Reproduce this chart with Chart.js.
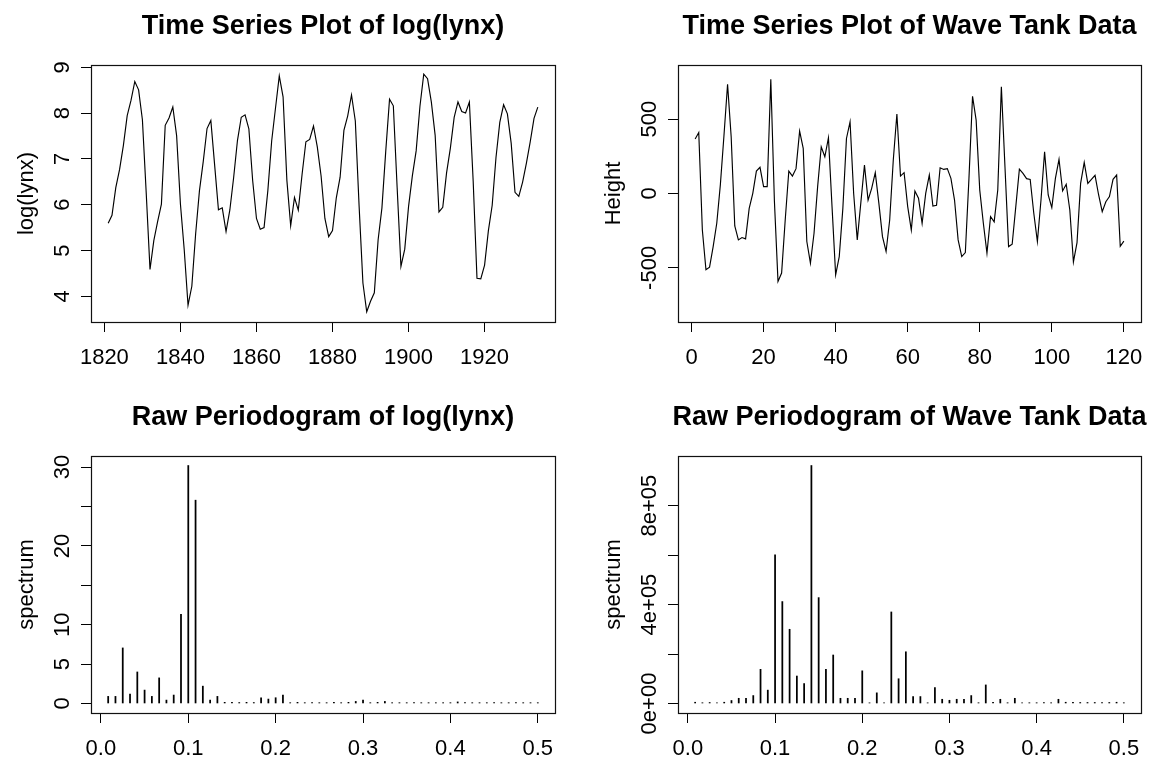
<!DOCTYPE html>
<html>
<head>
<meta charset="utf-8">
<script src="https://cdn.jsdelivr.net/npm/chart.js@4.4.1/dist/chart.umd.min.js"></script>
<style>
html,body{margin:0;padding:0;background:#fff;width:1161px;height:758px;overflow:hidden}
canvas{position:absolute;left:0;top:0}
</style>
</head>
<body>
<canvas id="c1" width="1161" height="758"></canvas>
<canvas id="c2" width="1161" height="758"></canvas>
<canvas id="c3" width="1161" height="758"></canvas>
<canvas id="c4" width="1161" height="758"></canvas>
<script>
// ---------------- DATA ----------------
const years = [1821,1822,1823,1824,1825,1826,1827,1828,1829,1830,
1831,1832,1833,1834,1835,1836,1837,1838,1839,1840,
1841,1842,1843,1844,1845,1846,1847,1848,1849,1850,
1851,1852,1853,1854,1855,1856,1857,1858,1859,1860,
1861,1862,1863,1864,1865,1866,1867,1868,1869,1870,
1871,1872,1873,1874,1875,1876,1877,1878,1879,1880,
1881,1882,1883,1884,1885,1886,1887,1888,1889,1890,
1891,1892,1893,1894,1895,1896,1897,1898,1899,1900,
1901,1902,1903,1904,1905,1906,1907,1908,1909,1910,
1911,1912,1913,1914,1915,1916,1917,1918,1919,1920,
1921,1922,1923,1924,1925,1926,1927,1928,1929,1930,
1931,1932,1933,1934];
const logLynx = [5.595,5.771,6.372,6.770,7.296,7.945,8.276,8.690,8.507,7.854,
6.260,4.585,5.215,5.631,6.014,7.734,7.895,8.134,7.509,6.014,
5.017,3.807,4.220,5.361,6.303,6.940,7.663,7.838,6.864,5.889,
5.932,5.416,5.886,6.594,7.401,7.910,7.962,7.659,6.528,5.700,
5.464,5.501,6.314,7.392,8.105,8.813,8.356,6.532,5.541,6.159,
5.881,6.664,7.374,7.424,7.719,7.263,6.628,5.700,5.303,5.434,
6.151,6.601,7.622,7.941,8.396,7.828,5.964,4.290,3.664,3.892,
4.078,5.236,5.932,7.164,8.302,8.159,6.375,4.654,5.030,5.958,
6.631,7.175,8.150,8.852,8.750,8.241,7.515,5.844,5.945,6.695,
7.236,7.906,8.243,8.036,8.001,8.240,6.513,4.394,4.382,4.682,
5.434,5.989,7.032,7.796,8.182,7.984,7.338,6.271,6.184,6.495,
6.908,7.371,7.885,8.130];
const waveTime = [1,2,3,4,5,6,7,8,9,10,11,12,13,14,15,16,17,18,19,20,
21,22,23,24,25,26,27,28,29,30,31,32,33,34,35,36,37,38,39,40,
41,42,43,44,45,46,47,48,49,50,51,52,53,54,55,56,57,58,59,60,
61,62,63,64,65,66,67,68,69,70,71,72,73,74,75,76,77,78,79,80,
81,82,83,84,85,86,87,88,89,90,91,92,93,94,95,96,97,98,99,100,
101,102,103,104,105,106,107,108,109,110,111,112,113,114,115,116,117,118,119,120];
const waveHeight = [366,410,-245,-513,-495,-357,-200,60,390,734,
381,-218,-312,-296,-305,-100,1,151,176,46,
46,768,-50,-591,-535,-178,151,117,167,419,
303,-323,-468,-267,46,314,247,375,-90,-547,
-424,-100,370,482,0,-312,-60,191,-44,35,
140,-66,-290,-390,-178,225,534,117,140,-88,
-245,17,-32,-200,1,124,-84,-79,173,162,
167,102,-44,-312,-424,-397,100,654,493,23,
-200,-401,-155,-191,23,717,180,-357,-341,-90,
164,135,100,95,-133,-323,-44,281,-10,-95,
102,229,17,62,-111,-460,-330,68,209,68,
95,122,-10,-122,-55,-21,95,124,-355,-320];
const frequencies = [0.00833,0.01667,0.025,0.03333,0.04167,0.05,0.05833,0.06667,0.075,0.08333,
0.09167,0.1,0.10833,0.11667,0.125,0.13333,0.14167,0.15,0.15833,0.16667,
0.175,0.18333,0.19167,0.2,0.20833,0.21667,0.225,0.23333,0.24167,0.25,
0.25833,0.26667,0.275,0.28333,0.29167,0.3,0.30833,0.31667,0.325,0.33333,
0.34167,0.35,0.35833,0.36667,0.375,0.38333,0.39167,0.4,0.40833,0.41667,
0.425,0.43333,0.44167,0.45,0.45833,0.46667,0.475,0.48333,0.49167,0.5];
const lynxSpectrum = [0.9,0.9,7.05,1.2,4.0,1.7,0.9,3.25,0.43,1.07,
11.3,30.2,25.8,2.2,0.43,0.9,0.15,0.15,0.12,0.15,
0.12,0.73,0.56,0.73,1.07,0.1,0.15,0.1,0.1,0.1,
0.1,0.15,0.1,0.15,0.26,0.43,0.1,0.15,0.26,0.1,
0.1,0.1,0.1,0.1,0.1,0.1,0.1,0.1,0.2,0.1,
0.1,0.1,0.1,0.1,0.1,0.1,0.1,0.1,0.1,0.1];
const waveSpectrum = [5000,3000,4000,3000,5000,12000,21000,21000,32000,138000,
54000,601000,412000,300000,111000,80500,962000,428000,138000,196000,
21000,21000,21000,132000,2700,43000,3000,370000,100000,209000,
28000,28000,2700,64000,17000,13000,17000,17000,32000,3000,
75000,5000,17000,3000,21000,3000,3000,3000,4000,3000,
17000,5000,5000,4000,4000,4000,4000,4000,5000,3000];

// tick values and labels
const yearTicks = [1820,1840,1860,1880,1900,1920];
const yearTickLabels = ["1820","1840","1860","1880","1900","1920"];
const timeTicks = [0,20,40,60,80,100,120];
const timeTickLabels = ["0","20","40","60","80","100","120"];
const freqTicks = [0,0.1,0.2,0.3,0.4,0.5];
const freqTickLabels = ["0.0","0.1","0.2","0.3","0.4","0.5"];
const lynxTicks = [4,5,6,7,8,9];
const lynxTickLabels = ["4","5","6","7","8","9"];
const heightTicks = [-500,0,500];
const heightTickLabels = ["-500","0","500"];
const lynxSpecTicks = [0,5,10,15,20,25,30];
const lynxSpecTickLabels = ["0","5","10","","20","","30"];
const waveSpecTicks = [0,200000,400000,600000,800000];
const waveSpecTickLabels = ["0e+00","","4e+05","","8e+05"];

// ---------------- STYLE / LAYOUT ----------------
const W = 1161, H = 758;
const FONT = '"Liberation Sans", Arial, Helvetica, sans-serif';
const COLS = [{left:91, right:555}, {left:678, right:1141}];
const ROWS = [{top:65, bottom:322}, {top:456, bottom:713}];

function rPlugin(cfg){
  return {
    id: 'rStyle',
    afterDraw(chart){
      const ctx = chart.ctx, a = chart.chartArea;
      const xs = chart.scales.x, ys = chart.scales.y;
      ctx.save();
      ctx.strokeStyle = '#111';
      ctx.lineWidth = 1.2;
      ctx.strokeRect(Math.round(a.left)+0.5, Math.round(a.top)+0.5,
                     Math.round(a.right-a.left), Math.round(a.bottom-a.top));
      ctx.fillStyle = '#000';
      ctx.textAlign = 'center';
      ctx.textBaseline = 'alphabetic';
      ctx.font = 'bold 27px ' + FONT;
      ctx.fillText(cfg.title, (a.left+a.right)/2, a.top-31);
      ctx.font = '22px ' + FONT;
      cfg.xTicks.forEach((v,i)=>{
        const t = cfg.xLabels[i];
        if (t) ctx.fillText(t, xs.getPixelForValue(v), a.bottom+42);
      });
      cfg.yTicks.forEach((v,i)=>{
        const t = cfg.yLabels[i];
        if (!t) return;
        ctx.save();
        ctx.translate(a.left-22, ys.getPixelForValue(v));
        ctx.rotate(-Math.PI/2);
        ctx.fillText(t, 0, 0);
        ctx.restore();
      });
      ctx.save();
      ctx.translate(a.left-58, (a.top+a.bottom)/2);
      ctx.rotate(-Math.PI/2);
      ctx.fillText(cfg.yTitle, 0, 0);
      ctx.restore();
      ctx.restore();
    }
  };
}

function axis(min, max, tickVals, horizontal){
  return {
    type: 'linear',
    position: horizontal ? 'bottom' : 'left',
    min: min, max: max,
    offset: false,
    afterBuildTicks(s){ s.ticks = tickVals.map(v=>({value:v})); },
    afterFit(s){ if (horizontal) s.height = 0; else s.width = 0; },
    grid: {display:true, drawOnChartArea:false, drawTicks:true, tickLength:10,
           color:'#000', lineWidth:1, offset:false},
    border: {display:false},
    ticks: {display:false}
  };
}

function makeChart(id, type, points, col, row, xr, yr, cfg){
  const c = COLS[col], r = ROWS[row];
  const ds = type === 'line'
    ? {data: points, borderColor:'#000', borderWidth:1.15, pointRadius:0, tension:0, fill:false}
    : {data: points, backgroundColor:'#000', borderWidth:0, barThickness:1.1, grouped:false};
  return new Chart(document.getElementById(id), {
    type: type,
    data: {datasets: [ds]},
    options: {
      responsive:false, animation:false, devicePixelRatio:1, events:[],
      layout: {padding: {left:c.left, right:W-c.right, top:r.top, bottom:H-r.bottom}},
      plugins: {legend:{display:false}, tooltip:{enabled:false}, title:{display:false}},
      scales: {
        x: axis(xr[0], xr[1], cfg.xTicks, true),
        y: axis(yr[0], yr[1], cfg.yTicks, false)
      }
    },
    plugins: [rPlugin(cfg)]
  });
}

makeChart('c1', 'line', years.map((x,i)=>({x:x, y:logLynx[i]})), 0, 0,
  [1816.48, 1938.52], [3.44, 9.05],
  {title:'Time Series Plot of log(lynx)', yTitle:'log(lynx)',
   xTicks:yearTicks, xLabels:yearTickLabels, yTicks:lynxTicks, yLabels:lynxTickLabels});

makeChart('c2', 'line', waveTime.map((x,i)=>({x:x, y:waveHeight[i]})), 1, 0,
  [-3.76, 124.76], [-864, 864],
  {title:'Time Series Plot of Wave Tank Data', yTitle:'Height',
   xTicks:timeTicks, xLabels:timeTickLabels, yTicks:heightTicks, yLabels:heightTickLabels});

makeChart('c3', 'bar', frequencies.map((x,i)=>({x:x, y:lynxSpectrum[i]})), 0, 1,
  [-0.01133, 0.5197], [-1.208, 31.408],
  {title:'Raw Periodogram of log(lynx)', yTitle:'spectrum',
   xTicks:freqTicks, xLabels:freqTickLabels, yTicks:lynxSpecTicks, yLabels:lynxSpecTickLabels});

makeChart('c4', 'bar', frequencies.map((x,i)=>({x:x, y:waveSpectrum[i]})), 1, 1,
  [-0.01133, 0.5197], [-38480, 1000500],
  {title:'Raw Periodogram of Wave Tank Data', yTitle:'spectrum',
   xTicks:freqTicks, xLabels:freqTickLabels, yTicks:waveSpecTicks, yLabels:waveSpecTickLabels});
</script>
</body>
</html>
